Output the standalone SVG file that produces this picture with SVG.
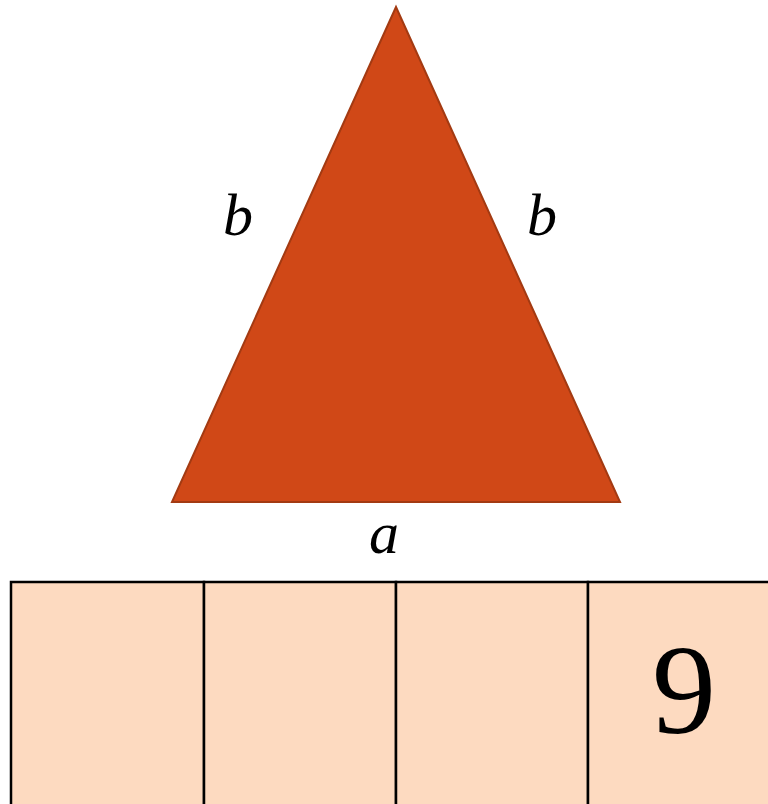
<svg xmlns="http://www.w3.org/2000/svg" width="768" height="804" viewBox="0 0 768 804">
<style>
.lbl{font-family:"Liberation Serif",serif;font-style:italic;fill:#000}
.cell{fill:#FDDAC0;stroke:#000;stroke-width:2.5}
</style>
<rect width="768" height="804" fill="#fff"/>
<g id="triangle">
<polygon points="396,7 172,502 620,502" fill="#D04817" stroke="#A33A12" stroke-width="2"/>
</g>
<g id="labels">
<text class="lbl" x="238" y="235" font-size="60" text-anchor="middle">b</text>
<text class="lbl" x="542" y="235" font-size="60" text-anchor="middle">b</text>
<text class="lbl" x="384" y="553" font-size="60" text-anchor="middle">a</text>
</g>
<g id="cells">
<rect class="cell" x="11" y="582" width="193" height="240"/>
<rect class="cell" x="204" y="582" width="192" height="240"/>
<rect class="cell" x="396" y="582" width="192" height="240"/>
<rect class="cell" x="588" y="582" width="200" height="240"/>
<text x="684" y="733" font-family="Liberation Serif, serif" font-size="128" text-anchor="middle" fill="#000">9</text>
</g>
</svg>
